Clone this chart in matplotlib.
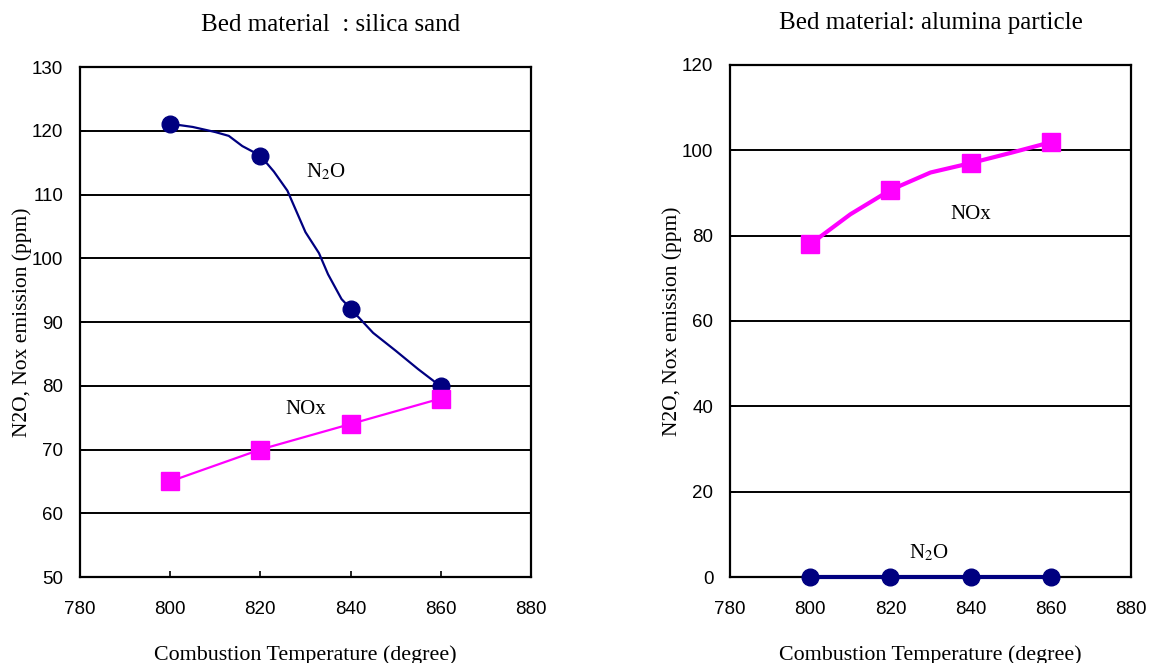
import matplotlib
matplotlib.use("Agg")
import matplotlib.pyplot as plt

plt.rcParams["mathtext.fontset"] = "stix"

# silica sand
temps = [800, 820, 840, 860]
sand_n2o = [121.1, 116.1, 92.1, 79.9]
sand_nox = [65.0, 70.0, 74.0, 78.0]
# the drawn N2O curve (it wiggles between markers)
sand_n2o_curve_x = [800, 805, 810, 813, 816, 820, 823, 826, 830, 833, 835, 838, 840, 845, 850, 855, 860]
sand_n2o_curve_y = [121.1, 120.6, 119.8, 119.2, 117.6, 116.1, 113.6, 110.6, 104.1, 100.8, 97.5, 93.6, 92.1, 88.3, 85.5, 82.6, 79.9]

# alumina particle
alu_n2o = [0.0, 0.0, 0.0, 0.0]
alu_nox = [78.0, 90.7, 97.0, 101.9]
alu_nox_curve_x = [800, 810, 820, 830, 840, 850, 860]
alu_nox_curve_y = [78.0, 85.0, 90.7, 94.8, 97.0, 99.4, 101.9]

navy = "#000080"
magenta = "#ff00ff"
serif = "Liberation Serif"
sans = "Liberation Sans"

fig = plt.figure(figsize=(11.52, 6.63), dpi=100)
ax1 = fig.add_axes([0.0694, 0.1297, 0.3915, 0.7692])
ax2 = fig.add_axes([0.6337, 0.1297, 0.3481, 0.7723])


def style(ax, ylim, yticks):
    ax.set_xlim(780, 880)
    ax.set_xticks([780, 800, 820, 840, 860, 880])
    ax.set_ylim(*ylim)
    ax.set_yticks(yticks)
    ax.yaxis.grid(True, color="black", linewidth=1.4)
    ax.set_axisbelow(True)
    for s in ax.spines.values():
        s.set_linewidth(1.6)
        s.set_color("black")
    ax.tick_params(axis="both", direction="in", length=4, width=1.2, labelsize=13.5)
    ax.tick_params(axis="x", pad=17)
    ax.tick_params(axis="y", pad=12)
    for lab in ax.get_xticklabels() + ax.get_yticklabels():
        lab.set_fontfamily(sans)
    ax.set_ylabel("N2O, Nox emission (ppm)", fontfamily=serif, fontsize=15.5, labelpad=0)
    ax.set_xlabel("Combustion Temperature (degree)", fontfamily=serif, fontsize=15.8, labelpad=20)


# left panel
style(ax1, (50, 130), range(50, 131, 10))
ax1.plot(sand_n2o_curve_x, sand_n2o_curve_y, color=navy, lw=1.6, zorder=3)
ax1.plot(temps, sand_n2o, "o", color=navy, ms=12, zorder=4)
ax1.plot(temps, sand_nox, "-s", color=magenta, lw=1.6, ms=13, zorder=4)
ax1.text(834.5, 113.6, "N$_2$O", fontfamily=serif, fontsize=15, ha="center", va="center")
ax1.text(830, 76.2, "NOx", fontfamily=serif, fontsize=15, ha="center", va="center")
ax1.set_title("Bed material  : silica sand", fontfamily=serif, fontsize=18, pad=26, x=0.555)

# right panel
style(ax2, (0, 120), range(0, 121, 20))
ax2.plot(alu_nox_curve_x, alu_nox_curve_y, color=magenta, lw=3, zorder=3)
ax2.plot(temps, alu_nox, "s", color=magenta, ms=13, zorder=4)
ax2.plot(temps, alu_n2o, "-o", color=navy, lw=3, ms=12, zorder=4, clip_on=False)
ax2.text(840, 85, "NOx", fontfamily=serif, fontsize=15, ha="center", va="center")
ax2.text(829.5, 5.6, "N$_2$O", fontfamily=serif, fontsize=15, ha="center", va="center")
ax2.set_title("Bed material: alumina particle", fontfamily=serif, fontsize=18, pad=26)

fig.savefig("out.png", dpi=100)
